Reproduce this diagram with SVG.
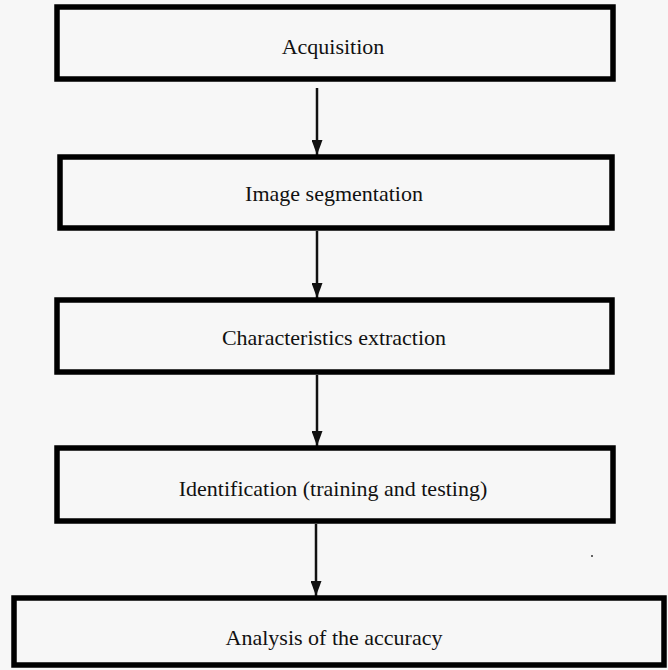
<svg xmlns="http://www.w3.org/2000/svg" width="668" height="670" viewBox="0 0 668 670">
<style>
.box{fill:#f7f7f7;stroke:#000;stroke-width:5.5}
.lbl{font-family:"Liberation Serif","Times New Roman",serif;font-size:22px;fill:#111;text-anchor:middle}
.conn{stroke:#111;stroke-width:2.5;fill:none}
</style>
<defs>
<marker id="ah" markerWidth="15" markerHeight="11" refX="15" refY="5.5" orient="auto" markerUnits="userSpaceOnUse" viewBox="0 0 15 11">
<path d="M0,0 L15,5.5 L0,11 Z" fill="#111"/>
</marker>
</defs>
<rect width="668" height="670" fill="#f7f7f7"/>
<g id="connectors">
<line class="conn" x1="317" y1="88" x2="317" y2="155" marker-end="url(#ah)"/>
<line class="conn" x1="317" y1="231" x2="317" y2="298" marker-end="url(#ah)"/>
<line class="conn" x1="317" y1="375" x2="317" y2="446" marker-end="url(#ah)"/>
<line class="conn" x1="316" y1="524" x2="316" y2="596" marker-end="url(#ah)"/>
</g>
<g id="n1"><rect class="box" x="57" y="7" width="556" height="72"/><text class="lbl" x="333" y="54">Acquisition</text></g>
<g id="n2"><rect class="box" x="60" y="157" width="552" height="71"/><text class="lbl" x="334" y="201">Image segmentation</text></g>
<g id="n3"><rect class="box" x="57" y="300" width="555" height="72"/><text class="lbl" x="334" y="345">Characteristics extraction</text></g>
<g id="n4"><rect class="box" x="57" y="448" width="556" height="73"/><text class="lbl" x="333" y="496">Identification (training and testing)</text></g>
<g id="n5"><rect class="box" x="14" y="598" width="650" height="67"/><text class="lbl" x="334" y="645">Analysis of the accuracy</text></g>
<circle cx="592" cy="556" r="1" fill="#333"/>
</svg>
